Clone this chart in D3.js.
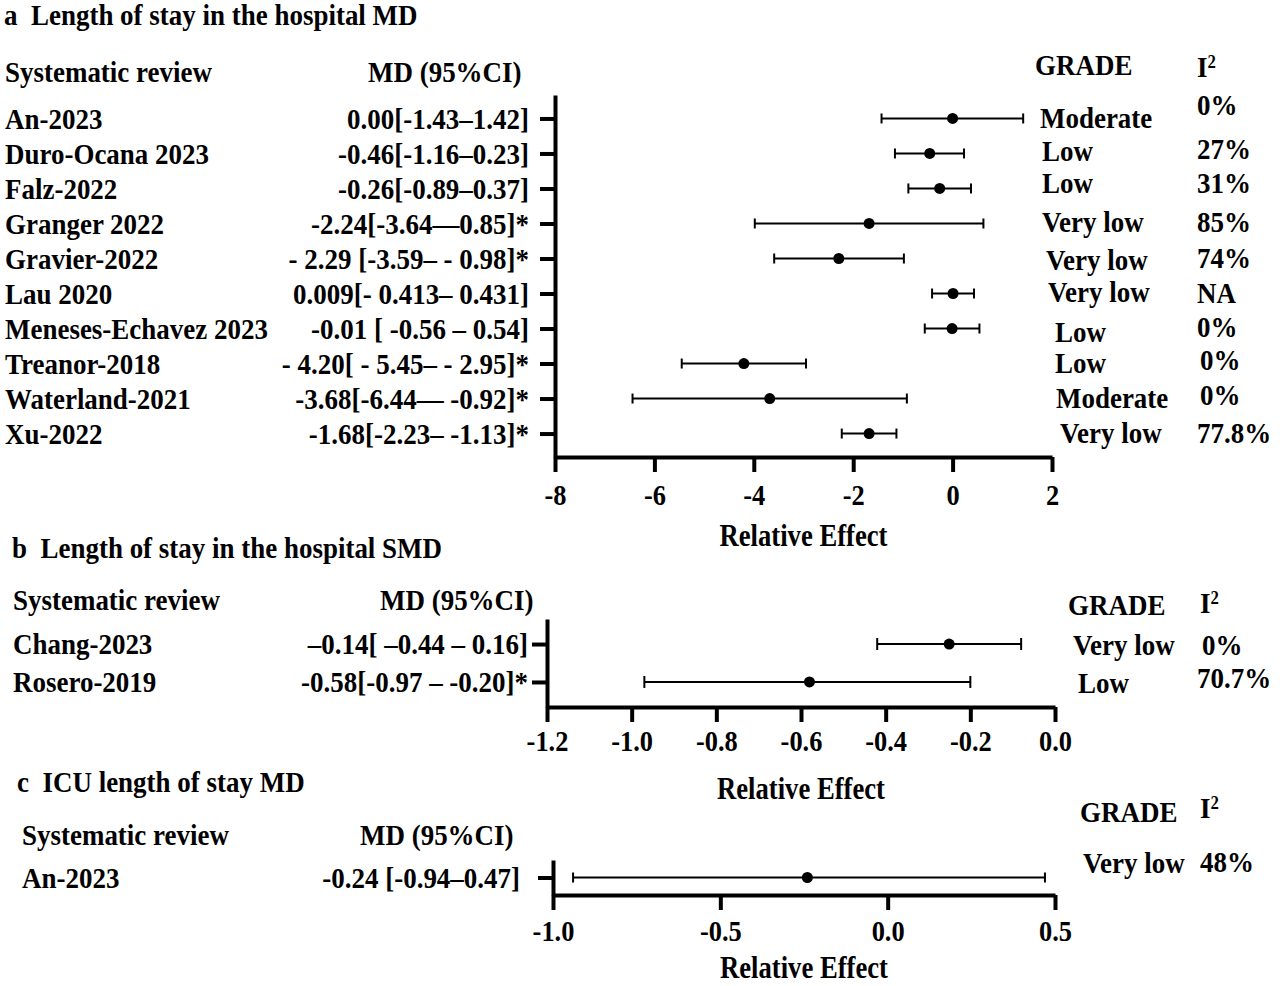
<!DOCTYPE html>
<html>
<head>
<meta charset="utf-8">
<script src="https://cdn.jsdelivr.net/npm/d3@7"></script>
<style>
body { margin: 0; background: #fff; }
svg text { font-family: "Liberation Serif", "Times New Roman", serif; font-weight: bold; font-size: 29px; fill: #000; white-space: pre; }
</style>
</head>
<body>
<script>
// a: length of stay in the hospital, MD
var studiesA = ["An-2023", "Duro-Ocana 2023", "Falz-2022", "Granger 2022", "Gravier-2022",
  "Lau 2020", "Meneses-Echavez 2023", "Treanor-2018", "Waterland-2021", "Xu-2022"];
var mdTextA = ["0.00[-1.43\u20131.42]", "-0.46[-1.16\u20130.23]", "-0.26[-0.89\u20130.37]",
  "-2.24[-3.64\u20140.85]*", "- 2.29 [-3.59\u2013 - 0.98]*", "0.009[- 0.413\u2013 0.431]",
  "-0.01 [ -0.56 \u2013 0.54]", "- 4.20[ - 5.45\u2013 - 2.95]*", "-3.68[-6.44\u2014 -0.92]*",
  "-1.68[-2.23\u2013 -1.13]*"];
// plotted values (Granger is drawn differently from its label)
var estA  = [0.00, -0.46, -0.26, -1.68, -2.29, 0.009, -0.01, -4.20, -3.68, -1.68];
var lowA  = [-1.43, -1.16, -0.89, -3.98, -3.59, -0.413, -0.56, -5.45, -6.44, -2.23];
var highA = [1.42, 0.23, 0.37, 0.62, -0.98, 0.431, 0.54, -2.95, -0.92, -1.13];
var gradeA = ["Moderate", "Low", "Low", "Very low", "Very low", "Very low", "Low", "Low", "Moderate", "Very low"];
var i2A = ["0%", "27%", "31%", "85%", "74%", "NA", "0%", "0%", "0%", "77.8%"];
var ticksA = [-8, -6, -4, -2, 0, 2];

// b: length of stay in the hospital, SMD
var studiesB = ["Chang-2023", "Rosero-2019"];
var mdTextB = ["\u20130.14[ \u20130.44 \u2013 0.16]", "-0.58[-0.97 \u2013 -0.20]*"];
var estB  = [-0.25, -0.58];
var lowB  = [-0.42, -0.97];
var highB = [-0.08, -0.20];
var gradeB = ["Very low", "Low"];
var i2B = ["0%", "70.7%"];
var ticksB = [-1.2, -1.0, -0.8, -0.6, -0.4, -0.2, 0.0];

// c: ICU length of stay, MD
var studiesC = ["An-2023"];
var mdTextC = ["-0.24 [-0.94\u20130.47]"];
var estC  = [-0.24];
var lowC  = [-0.94];
var highC = [0.47];
var gradeC = ["Very low"];
var i2C = ["48%"];
var ticksC = [-1.0, -0.5, 0.0, 0.5];

var width = 1280, height = 986;

var svg = d3.select("body").append("svg")
    .attr("width", width)
    .attr("height", height);

// the figure's type is a little narrower than plain Times, so squeeze it sideways
function label(x, y, s, anchor, fs, sx) {
  return svg.append("text")
      .attr("transform", "translate(" + x + "," + y + ") scale(" + (sx || 0.93) + ",1)")
      .attr("dy", "0.35em")
      .attr("text-anchor", anchor || "start")
      .style("font-size", (fs || 29) + "px")
      .text(s);
}

function i2Head(x, y) {
  var t = label(x, y, "I");
  t.append("tspan").attr("dy", "-0.5em").style("font-size", "18px").text("2");
}

function forest(p) {
  var x = d3.scaleLinear().domain(p.domain).range([p.left, p.right]);
  var y = d3.scalePoint().domain(p.studies).range([p.top, p.bottom]).padding(p.pad);

  label(p.titleX, p.titleY, p.title);
  label(p.nameX, p.headY, "Systematic review");
  label(p.mdX, p.headY, "MD (95%CI)");
  label(p.gradeX, p.gradeHeadY, "GRADE");
  i2Head(p.i2X, p.i2HeadY);

  p.studies.forEach(function(s, i) {
    label(p.nameX, y(s), s);
    label(p.mdRight, y(s), p.md[i], "end");
    label(p.gradeXs[i], y(s) + p.gradeDy[i], p.grade[i]);
    label(p.i2Xs[i], y(s) + p.i2Dy[i], p.i2[i]);
  });

  var xAxis = svg.append("g")
      .attr("transform", "translate(0," + p.bottom + ")")
      .call(d3.axisBottom(x)
        .tickValues(p.ticks)
        .tickFormat(p.fmt)
        .tickSize(15)
        .tickSizeOuter(0)
        .tickPadding(p.tickPad));
  xAxis.selectAll("text")
      .style("font-size", "30px")
      .attr("transform", "scale(0.88,1)");

  svg.append("g")
      .attr("transform", "translate(" + p.left + ",0)")
      .call(d3.axisLeft(y).tickSize(15).tickSizeOuter(0).tickFormat(""));

  svg.selectAll("g path.domain, g .tick line")
      .attr("stroke", "#000")
      .attr("stroke-width", 4);

  label((p.left + p.right) / 2, p.axisTitleY, "Relative Effect", "middle", 31, 0.86);

  var rows = svg.append("g").selectAll("g")
    .data(p.studies)
    .join("g")
      .attr("transform", function(s) { return "translate(0," + y(s) + ")"; });

  rows.append("line")
      .attr("x1", function(s, i) { return x(p.low[i]); })
      .attr("x2", function(s, i) { return x(p.high[i]); })
      .attr("stroke", "#000")
      .attr("stroke-width", 2);

  rows.selectAll("line.cap")
    .data(function(s, i) { return [p.low[i], p.high[i]]; })
    .join("line")
      .attr("class", "cap")
      .attr("x1", function(d) { return x(d); })
      .attr("x2", function(d) { return x(d); })
      .attr("y1", -p.cap)
      .attr("y2", p.cap)
      .attr("stroke", "#000")
      .attr("stroke-width", 2);

  rows.append("circle")
      .attr("cx", function(s, i) { return x(p.est[i]); })
      .attr("r", 5.5)
      .attr("fill", "#000");
}

forest({
  title: "a  Length of stay in the hospital MD", titleX: 4, titleY: 15,
  studies: studiesA, md: mdTextA, est: estA, low: lowA, high: highA,
  grade: gradeA, i2: i2A, ticks: ticksA, domain: [-8, 2],
  fmt: function(d) { return String(d); },
  left: 555, right: 1052, top: 95, bottom: 457, pad: 0.67,
  nameX: 5, headY: 72, mdX: 368, mdRight: 529,
  gradeX: 1035, gradeHeadY: 65, i2X: 1197, i2HeadY: 67,
  gradeXs: [1040, 1042, 1042, 1042, 1046, 1048, 1055, 1055, 1056, 1060],
  gradeDy: [-1, -3, -6, -2, 1, -2, 3, -1, -1, -1],
  i2Xs: [1197, 1197, 1197, 1197, 1197, 1197, 1197, 1200, 1200, 1197],
  i2Dy: [-14, -5, -6, -2, -1, -1, -2, -4, -4, -1],
  tickPad: 12, axisTitleY: 535, cap: 5
});

forest({
  title: "b  Length of stay in the hospital SMD", titleX: 12, titleY: 548,
  studies: studiesB, md: mdTextB, est: estB, low: lowB, high: highB,
  grade: gradeB, i2: i2B, ticks: ticksB, domain: [-1.2, 0],
  fmt: function(d) { return d.toFixed(1); },
  left: 547, right: 1055, top: 619, bottom: 707, pad: 0.66,
  nameX: 13, headY: 600, mdX: 380, mdRight: 528,
  gradeX: 1068, gradeHeadY: 605, i2X: 1200, i2HeadY: 603,
  gradeXs: [1073, 1078], gradeDy: [1, 1],
  i2Xs: [1202, 1197], i2Dy: [1, -4],
  tickPad: 8, axisTitleY: 788, cap: 6
});

forest({
  title: "c  ICU length of stay MD", titleX: 17, titleY: 782,
  studies: studiesC, md: mdTextC, est: estC, low: lowC, high: highC,
  grade: gradeC, i2: i2C, ticks: ticksC, domain: [-1.0, 0.5],
  fmt: function(d) { return d.toFixed(1); },
  left: 553, right: 1055, top: 860, bottom: 895, pad: 0.5,
  nameX: 22, headY: 835, mdX: 360, mdRight: 520,
  gradeX: 1080, gradeHeadY: 812, i2X: 1200, i2HeadY: 808,
  gradeXs: [1083], gradeDy: [-15],
  i2Xs: [1200], i2Dy: [-16],
  tickPad: 10, axisTitleY: 967, cap: 5
});
</script>
</body>
</html>
